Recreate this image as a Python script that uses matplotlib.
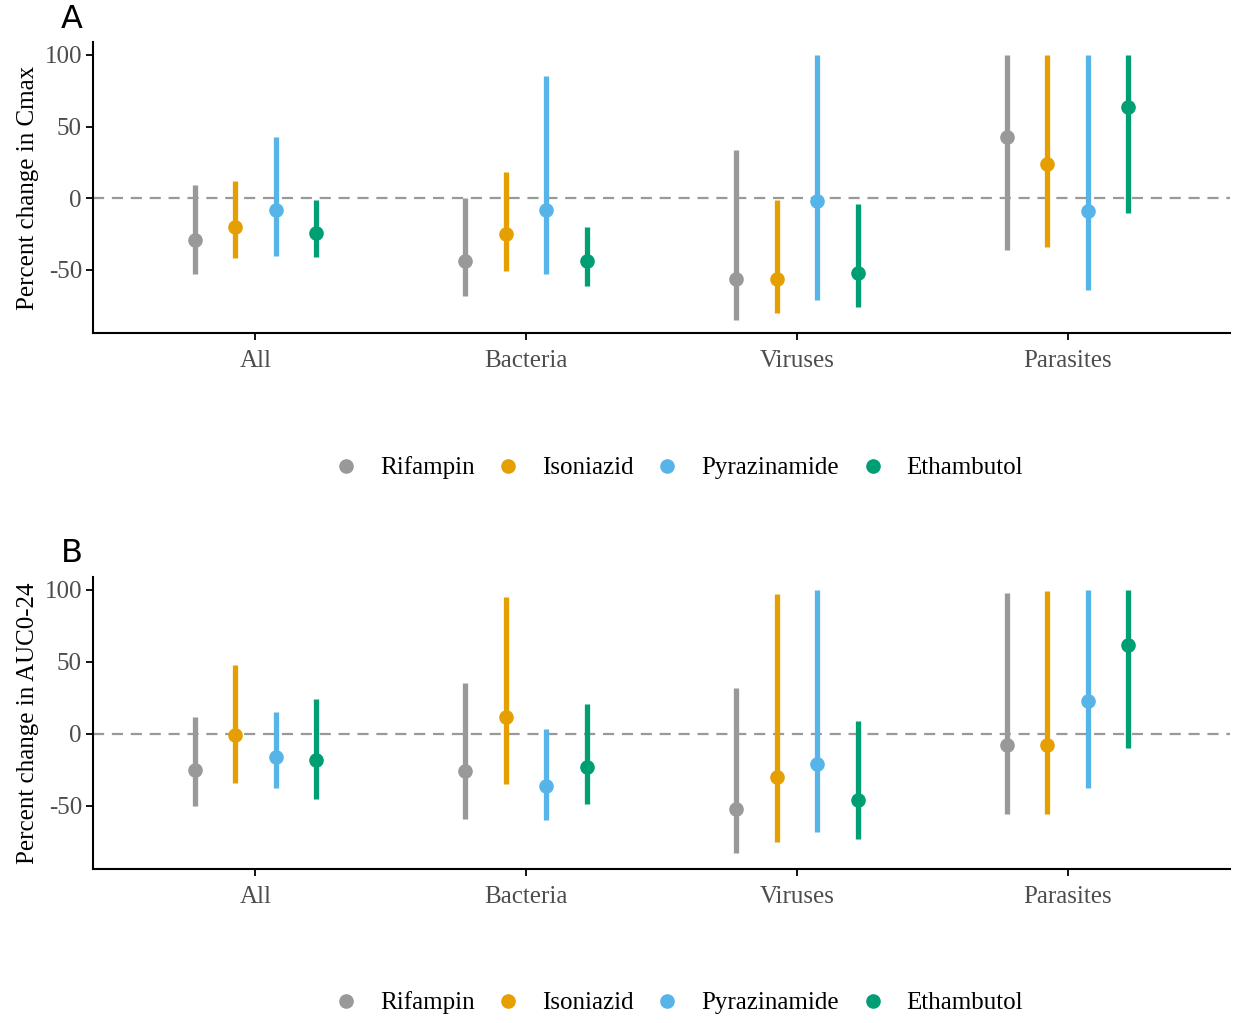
import numpy as np
import matplotlib
matplotlib.use("Agg")
import matplotlib.pyplot as plt
from matplotlib.lines import Line2D

groups = ["All", "Bacteria", "Viruses", "Parasites"]
drugs = ["Rifampin", "Isoniazid", "Pyrazinamide", "Ethambutol"]
colors = ["#999999", "#E69F00", "#56B4E9", "#009E73"]

# Cmax: estimate, lower, upper  (rows = drugs, cols = groups)
cmax_est = [[-29, -44, -56, 43],
            [-20, -25, -56, 24],
            [-8, -8, -2, -9],
            [-24, -44, -52, 64]]
cmax_lo = [[-53, -68, -85, -36],
           [-42, -51, -80, -34],
           [-40, -53, -71, -64],
           [-41, -61, -76, -10]]
cmax_hi = [[9, 0, 34, 100],
           [12, 18, -1, 100],
           [43, 85, 100, 100],
           [-1, -20, -4, 100]]

# AUC0-24
auc_est = [[-25, -26, -52, -8],
           [-1, 12, -30, -8],
           [-16, -36, -21, 23],
           [-18, -23, -46, 62]]
auc_lo = [[-50, -59, -83, -56],
          [-34, -35, -75, -56],
          [-38, -60, -68, -38],
          [-45, -49, -73, -10]]
auc_hi = [[12, 35, 32, 98],
          [48, 95, 97, 99],
          [15, 3, 100, 100],
          [24, 21, 9, 100]]

plt.rcParams["font.family"] = ["Liberation Serif", "DejaVu Serif"]
plt.rcParams["axes.unicode_minus"] = False

fig = plt.figure(figsize=(12.35, 10.23), dpi=100)
W, H = 1235.0, 1023.0


def panel(top, bottom, est, lo, hi, ylabel, letter, leg_y):
    ax = fig.add_axes([93 / W, 1 - bottom / H, (1230 - 93) / W, (bottom - top) / H])
    x = np.arange(len(groups)) + 1
    offsets = [-0.225, -0.075, 0.075, 0.225]
    ax.axhline(0, color="#999999", lw=1.6, ls=(0, (5, 3.5)), zorder=1)
    for i in range(len(drugs)):
        xs = x + offsets[i]
        ax.vlines(xs, lo[i], hi[i], color=colors[i], lw=3.8, zorder=2)
        ax.plot(xs, est[i], "o", color=colors[i], ms=9.5, zorder=3)
    ax.set_xlim(0.4, 4.6)
    ax.set_ylim(-94, 109)
    ax.set_yticks([-50, 0, 50, 100])
    ax.set_xticks(x)
    ax.set_xticklabels(groups)
    for s in ["top", "right"]:
        ax.spines[s].set_visible(False)
    for s in ["left", "bottom"]:
        ax.spines[s].set_linewidth(1.5)
    ax.tick_params(axis="both", length=5, width=1.3, labelsize=18,
                   labelcolor="#4D4D4D")
    ax.tick_params(axis="x", pad=7)
    ax.tick_params(axis="y", pad=3)
    ax.set_ylabel(ylabel, fontsize=18, labelpad=4)
    fig.text(61 / W, 1 - (top - 23) / H, letter, fontsize=23,
             family="DejaVu Sans", va="center", ha="left")
    handles = [Line2D([], [], marker="o", ls="none", color=c, ms=9.5)
               for c in colors]
    fig.legend(handles, drugs, loc="center", bbox_to_anchor=(677 / W, 1 - leg_y / H),
               ncol=4, frameon=False, fontsize=18, handletextpad=0.75,
               columnspacing=0.75, handlelength=1.2)
    return ax


panel(42, 333, cmax_est, cmax_lo, cmax_hi, "Percent change in Cmax", "A", 468)
panel(577, 869, auc_est, auc_lo, auc_hi, "Percent change in AUC0-24", "B", 1003)

fig.savefig("out.png", dpi=100)
